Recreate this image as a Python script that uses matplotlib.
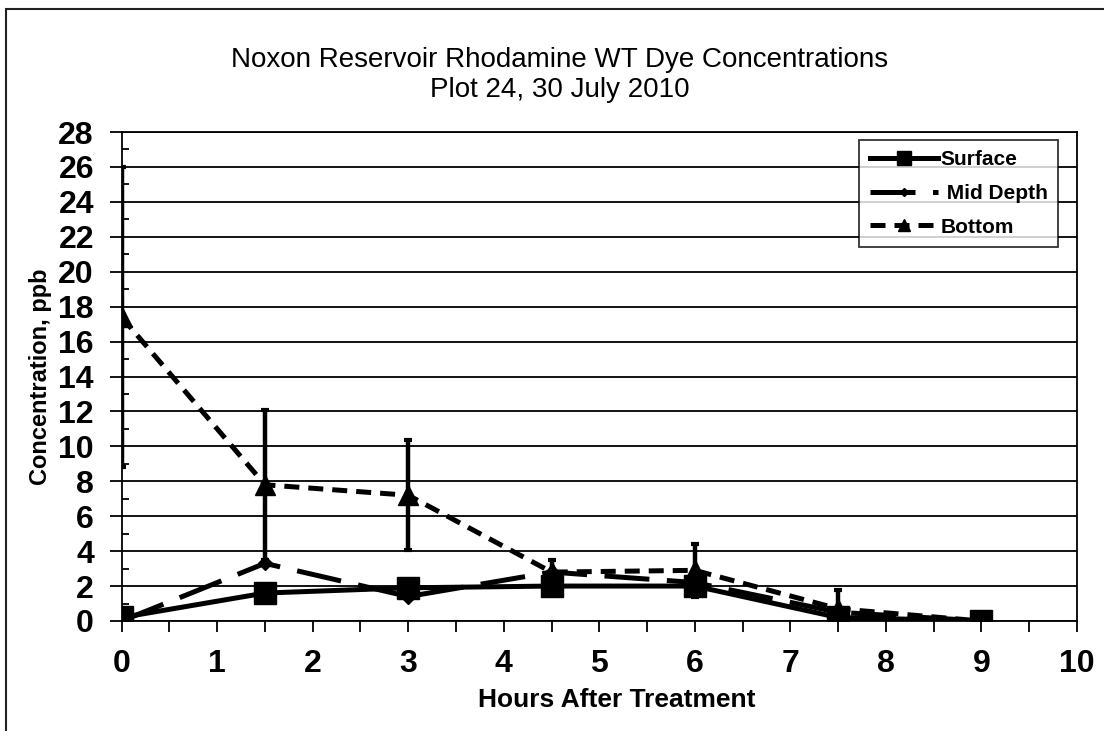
import numpy as np
import matplotlib
matplotlib.use("Agg")
import matplotlib.pyplot as plt
from matplotlib.patches import Rectangle

plt.rcParams['font.family'] = ['Liberation Sans', 'DejaVu Sans']

# data
hours = [0, 1.5, 3, 4.5, 6, 7.5, 9]
surface = [0.2, 1.6, 1.9, 2.0, 2.0, 0.2, 0.0]
mid_depth = [0.0, 3.3, 1.4, 2.8, 2.2, 0.5, 0.0]
bottom = [17.4, 7.8, 7.2, 2.8, 2.9, 0.7, 0.0]
bottom_err = [8.6, 4.3, 3.15, 0.7, 1.5, 1.1, 0.0]

y_ticks = list(range(0, 29, 2))
x_ticks = list(range(0, 11))

fig = plt.figure(figsize=(11.04, 7.31), dpi=100)
ax = fig.add_axes([0.1102, 0.1505, 0.8653, 0.6689])

# outer frame (cut off at right and bottom like the picture)
fig.patches.append(Rectangle((6 / 1104, -0.05), 1.2, 1 - 9 / 731 + 0.05, transform=fig.transFigure,
                             fill=False, edgecolor='#222222', linewidth=1.5))

ax.errorbar(hours, bottom, yerr=bottom_err, fmt='none', ecolor='black', elinewidth=3.2,
            capsize=3, capthick=3, zorder=3)
ax.plot(hours, surface, color='black', linewidth=3.6, marker='s', markersize=16,
        label='Surface', zorder=5)
ax.plot(hours, mid_depth, color='black', linewidth=3.6, marker='D', markersize=7,
        dashes=(9, 3.5), label=' Mid Depth', zorder=4)
ax.plot(hours, bottom, color='black', linewidth=3.6, marker='^', markersize=14,
        dashes=(3, 1.8), label='Bottom', zorder=4)

ax.set_xlim(0, 10)
ax.set_ylim(0, 28)
ax.set_xticks(x_ticks)
ax.set_yticks(y_ticks)
ax.set_xticks(np.arange(0, 10.01, 0.5), minor=True)
ax.set_yticks(np.arange(1, 28, 2), minor=True)
ax.yaxis.grid(True, color='black', linewidth=1.3)
ax.set_axisbelow(True)

ax.tick_params(axis='x', which='both', direction='out', length=8, width=1.3, pad=12)
ax.tick_params(axis='y', which='major', direction='out', length=9, width=1.3, pad=11)
ax.tick_params(axis='y', which='minor', direction='in', length=5, width=1.3)
ax.tick_params(axis='x', which='minor', labelbottom=False)
for lab in ax.get_xticklabels() + ax.get_yticklabels():
    lab.set_fontsize(23)
    lab.set_fontweight('bold')

for s in ['left', 'bottom', 'right', 'top']:
    ax.spines[s].set_linewidth(1.3)

ax.set_xlabel('Hours After Treatment', fontsize=19, fontweight='bold')
ax.xaxis.set_label_coords(0.518, -0.138)
ax.set_ylabel('Concentration, ppb', fontsize=17, fontweight='bold')
ax.yaxis.set_label_coords(-0.073, 0.50)

fig.text(0.507, 0.898, 'Noxon Reservoir Rhodamine WT Dye Concentrations\nPlot 24, 30 July 2010',
         ha='center', va='center', fontsize=20, linespacing=1.2)

leg = ax.legend(loc='upper right', bbox_to_anchor=(0.980, 0.9836),
                prop={'weight': 'bold', 'size': 15}, frameon=True, fancybox=False,
                edgecolor='black', handlelength=3.3, handletextpad=0.1, borderpad=0.5,
                labelspacing=0.7, markerscale=0.6, borderaxespad=0)
leg.get_frame().set_linewidth(1.3)

fig.savefig('out.png', dpi=100)
